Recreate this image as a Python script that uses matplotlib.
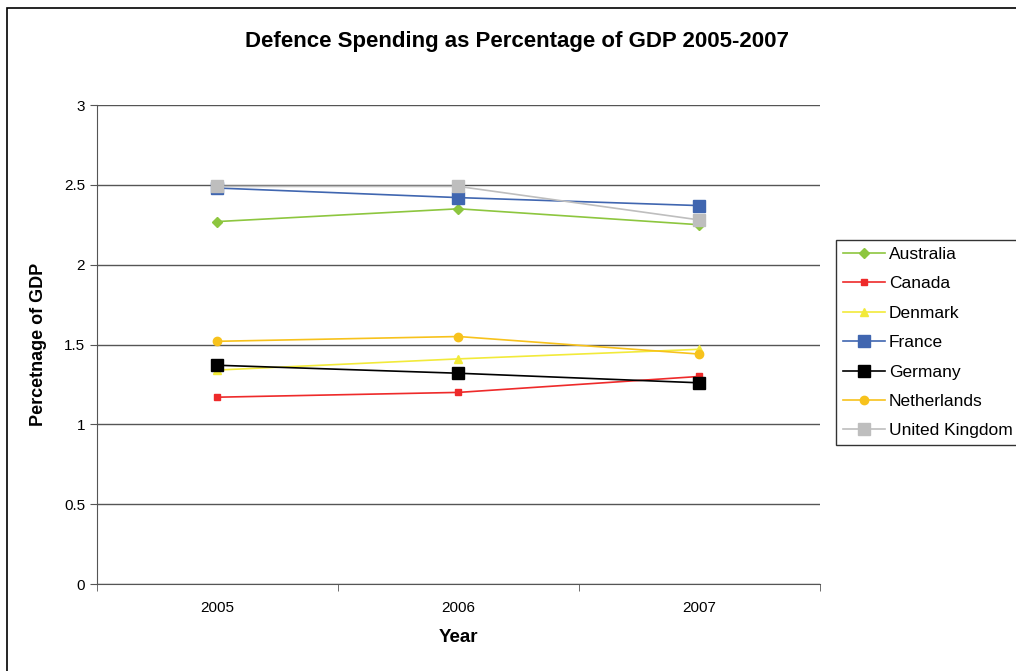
import matplotlib
matplotlib.use("Agg")
import matplotlib.pyplot as plt
from matplotlib.patches import Rectangle

years = ["2005", "2006", "2007"]
australia = [2.27, 2.35, 2.25]
canada = [1.17, 1.20, 1.30]
denmark = [1.34, 1.41, 1.47]
france = [2.48, 2.42, 2.37]
germany = [1.37, 1.32, 1.26]
netherlands = [1.52, 1.55, 1.44]
united_kingdom = [2.49, 2.49, 2.28]

series = [
    ("Australia", australia, "#8DC63F", "D", 5),
    ("Canada", canada, "#EE2A2A", "s", 5),
    ("Denmark", denmark, "#F2EA3A", "^", 6),
    ("France", france, "#4066B0", "s", 8),
    ("Germany", germany, "#000000", "s", 8),
    ("Netherlands", netherlands, "#F7C21C", "o", 6),
    ("United Kingdom", united_kingdom, "#BEBEBE", "s", 8),
]

plt.rcParams['font.family'] = ['Liberation Sans', 'DejaVu Sans']

fig = plt.figure(figsize=(10.16, 6.71), dpi=100)
ax = fig.add_axes([97 / 1016, 1 - 584 / 671, (820 - 97) / 1016, (584 - 105) / 671])

x = list(range(len(years)))
for name, vals, col, mk, ms in series:
    ax.plot(x, vals, color=col, marker=mk, markersize=ms, linewidth=1.2,
            label=name, zorder=3)

ax.set_xlim(-0.5, 2.5)
ax.set_ylim(0, 3)
ax.set_yticks([0, 0.5, 1, 1.5, 2, 2.5, 3])
ax.set_yticklabels(["0", "0.5", "1", "1.5", "2", "2.5", "3"])
ax.set_xticks(x)
ax.set_xticklabels(years)
ax.set_xticks([-0.5, 0.5, 1.5, 2.5], minor=True)
ax.tick_params(axis="x", which="major", length=0, labelsize=11, pad=12)
ax.tick_params(axis="x", which="minor", length=5, direction="out", color="#555555")
ax.tick_params(axis="y", length=5, direction="out", labelsize=11, color="#555555")
ax.grid(axis="y", color="#555555", linewidth=1.0, zorder=0)
for s in ["top", "right"]:
    ax.spines[s].set_visible(False)
ax.spines["left"].set_color("#555555")
ax.spines["bottom"].set_color("#555555")

ax.set_xlabel("Year", fontsize=13.5, fontweight="bold", labelpad=10)
ax.set_ylabel("Percetnage of GDP", fontsize=13, fontweight="bold", labelpad=12)
fig.text(517 / 1016, 1 - 42 / 671, "Defence Spending as Percentage of GDP 2005-2007",
         ha="center", va="center", fontsize=16, fontweight="bold")

leg = ax.legend(loc="upper left", bbox_to_anchor=(836 / 1016, 1 - 240 / 671),
                bbox_transform=fig.transFigure, frameon=True, fancybox=False,
                fontsize=12.5, handlelength=2.4, borderaxespad=0, labelspacing=0.82,
                handletextpad=0.25, borderpad=0.4)
leg.get_frame().set_edgecolor("#000000")
leg.get_frame().set_linewidth(1.0)

fig.patches.append(Rectangle((7 / 1016, -0.1), 1.2, 1 - 8 / 671 + 0.1,
                             transform=fig.transFigure, fill=False,
                             edgecolor="#000000", linewidth=1.2))

fig.savefig("out.png", dpi=100)
